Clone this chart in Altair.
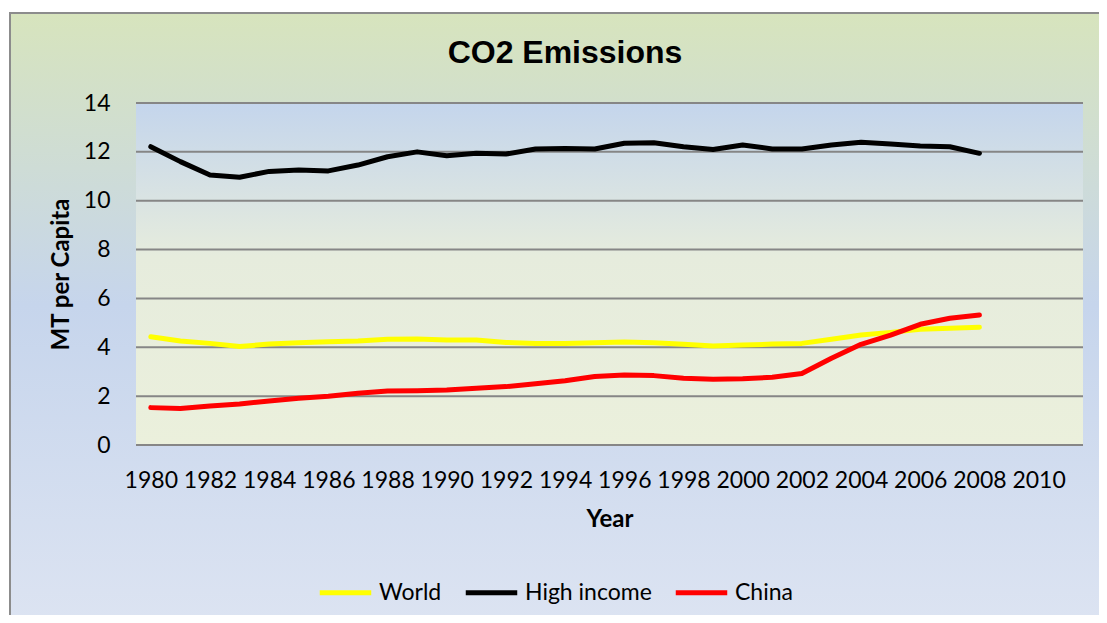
import altair as alt
import pandas as pd

chart_title = "CO2 Emissions"
years = list(range(1980, 2009))
world = [4.43, 4.26, 4.16, 4.03, 4.13, 4.19, 4.23, 4.26, 4.33, 4.34, 4.30, 4.30, 4.20, 4.15, 4.16,
         4.19, 4.22, 4.19, 4.12, 4.05, 4.09, 4.13, 4.16, 4.33, 4.50, 4.61, 4.74, 4.78, 4.82]
high_income = [12.21, 11.60, 11.05, 10.96, 11.20, 11.26, 11.22, 11.46, 11.80, 12.00, 11.84, 11.94, 11.91,
               12.12, 12.14, 12.12, 12.35, 12.37, 12.21, 12.10, 12.28, 12.12, 12.12, 12.28, 12.39,
               12.32, 12.24, 12.21, 11.94]
china = [1.53, 1.49, 1.60, 1.68, 1.80, 1.91, 2.00, 2.12, 2.21, 2.22, 2.25, 2.32, 2.39, 2.51, 2.63,
         2.80, 2.87, 2.84, 2.73, 2.69, 2.71, 2.77, 2.93, 3.55, 4.12, 4.50, 4.94, 5.19, 5.32]
series = ["World", "High income", "China"]
colors = ["#ffff00", "#000000", "#ff0000"]
x_ticks = list(range(1980, 2011, 2))
y_ticks = [0, 2, 4, 6, 8, 10, 12, 14]

rows = []
for name, vals in zip(series, [world, high_income, china]):
    for yr, v in zip(years, vals):
        rows.append({"Year": yr, "Value": v, "Series": name})
df = pd.DataFrame(rows)
grid_df = pd.DataFrame({"Value": y_ticks})

W, H = 947, 342
PL, PT, PR, PB = 128, 95, 16, 170

x_scale = alt.Scale(domain=[1979.5, 2011.5], nice=False, zero=False)
y_scale = alt.Scale(domain=[0, 14], nice=False)
y_axis = alt.Axis(values=y_ticks, grid=False, ticks=False, zindex=2,
                  domain=False, labelFont="Lato", labelFontSize=23, labelColor="#000000",
                  labelPadding=26, title="MT per Capita", titleFont="Lato", titleFontSize=24,
                  titleFontWeight="bold", titleColor="#000000", titlePadding=10)

outer_bg = alt.Chart(pd.DataFrame({"a": [0]})).mark_rect(
    stroke="#8c8c8c", strokeWidth=2,
    color=alt.Gradient(gradient="linear", x1=0, y1=0, x2=0, y2=1,
                       stops=[alt.GradientStop(color="#d7e4bd", offset=0),
                              alt.GradientStop(color="#c6d5ec", offset=0.47),
                              alt.GradientStop(color="#dde4f2", offset=1)]),
    clip=False,
).encode(x=alt.value(-126), x2=alt.value(W + PR + 20), y=alt.value(-90), y2=alt.value(H + PB + 20))

plot_bg = alt.Chart(pd.DataFrame({"a": [0]})).mark_rect(
    color=alt.Gradient(gradient="linear", x1=0, y1=0, x2=0, y2=1,
                       stops=[alt.GradientStop(color="#c4d5ec", offset=0),
                              alt.GradientStop(color="#e6ecdd", offset=0.45),
                              alt.GradientStop(color="#ebf0dc", offset=1)]),
).encode(x=alt.value(0), x2=alt.value(W), y=alt.value(0), y2=alt.value(H))

title_layer = alt.Chart(pd.DataFrame({"t": [chart_title]})).mark_text(
    font="Liberation Sans", fontSize=32, fontWeight="bold", color="#000000",
    align="center", baseline="middle", clip=False,
).encode(text="t:N", x=alt.value(429), y=alt.value(-50))

grid = alt.Chart(grid_df).mark_rule(color="#868686", strokeWidth=2).encode(
    y=alt.Y("Value:Q", scale=y_scale, axis=y_axis),
    x=alt.value(0), x2=alt.value(W),
)

lines = alt.Chart(df).mark_line(strokeWidth=5, strokeCap="round", strokeJoin="round").encode(
    x=alt.X("Year:Q", scale=x_scale,
            axis=alt.Axis(values=x_ticks, format="d", grid=False, ticks=False, domain=False, zindex=2,
                          labelFont="Lato", labelFontSize=23, labelColor="#000000", labelPadding=24,
                          labelFlush=False, labelOverlap=False,
                          title="Year", titleFont="Lato", titleFontSize=24, titleFontWeight="bold",
                          titleColor="#000000", titlePadding=15)),
    y=alt.Y("Value:Q", scale=y_scale, axis=y_axis),
    color=alt.Color("Series:N", sort=series,
                    scale=alt.Scale(domain=series, range=colors),
                    legend=alt.Legend(orient="none", legendX=181, legendY=461, direction="horizontal",
                                      title=None, symbolType="stroke", symbolSize=2650, zindex=2,
                                      symbolStrokeWidth=5, labelFont="Lato", labelFontSize=23,
                                      labelColor="#000000", columnPadding=13, labelOffset=5,
                                      symbolOffset=0)),
    order="Year:Q",
)

chart = alt.layer(outer_bg, plot_bg, title_layer, grid, lines).properties(
    width=W, height=H,
    autosize=alt.AutoSizeParams(type="none"),
    padding={"left": PL, "top": PT, "right": PR, "bottom": PB},
    background="#ffffff",
).configure_view(strokeWidth=0)

chart.save("out.html", embed_options={"renderer": "svg", "actions": False})
